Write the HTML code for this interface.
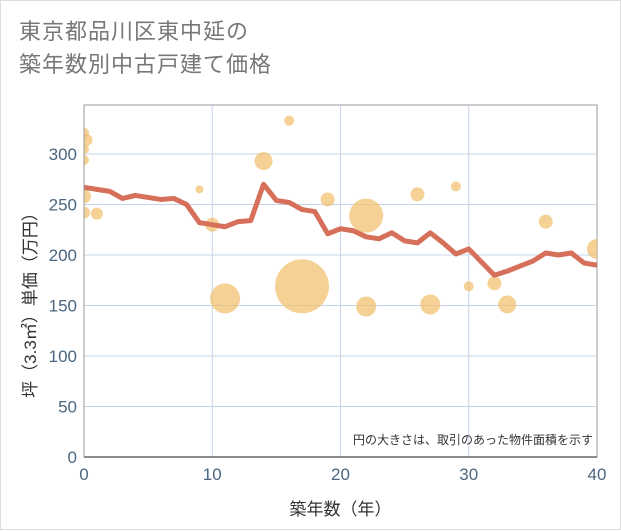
<!DOCTYPE html>
<html><head><meta charset="utf-8"><style>
body{margin:0;background:#fff;}
#wrap{position:relative;width:619px;height:528px;border:1px solid #ddd;background:#fff;font-family:"Liberation Sans","Noto Sans CJK JP",sans-serif;}
#title{position:absolute;left:18px;top:14px;font-size:22px;line-height:33px;color:#777;letter-spacing:1px;}
svg{position:absolute;left:0;top:0;}
</style></head><body>
<div id="wrap">
<div id="title">東京都品川区東中延の<br>築年数別中古戸建て価格</div>
<svg id="chart" width="621" height="530"><defs><clipPath id="pc"><rect x="83" y="104" width="513" height="352"/></clipPath></defs></svg>
</div>
<script>
const lineYears=[0,1,2,3,4,5,6,7,8,9,10,11,12,13,14,15,16,17,18,19,20,21,22,23,24,25,26,27,28,29,30,31,32,33,34,35,36,37,38,39,40];
const lineValues=[267,265,263,256,259,257,255,256,250,232,230,228,233,234,270,254,252,245,243,221,226,224,218,216,222,214,212,222,212,201,206,193,180,184,189,194,202,200,202,192,190];
const bubbleYears=[0,0.2,0,0,0,0,1,9,10,11,14,16,17,19,22,22,26,27,29,30,32,33,36,40];
const bubbleValues=[321,314,305,294,258,242,241,265,230,157,293,333,169,255,239,149,260,151,268,169,172,151,233,206];
const bubbleSizes=[5,6,5,5,7,6,6,4,7,15,9,5,27,7,17,10,7,10,5,5,7,9,7,10];
const xTicks=[0,10,20,30,40];
const yTicks=[0,50,100,150,200,250,300];
const L=83,R=596,T=104,B=456;
const xs=v=>L+(R-L)*v/40;
const ys=v=>B-v*(B-153)/300;
const svg=document.getElementById('chart');
const NS='http://www.w3.org/2000/svg';
function mk(t,a,par){const e=document.createElementNS(NS,t);for(const k in a)e.setAttribute(k,a[k]);(par||svg).appendChild(e);return e;}
let e=mk('rect',{x:L,y:T,width:R-L,height:B-T,fill:'#fff',stroke:'#999','stroke-width':1});


yTicks.forEach(v=>{
 if(v>0){const g=mk('line',{x1:L,x2:R,y1:ys(v),y2:ys(v),stroke:'#c4d4e6','stroke-width':1});
 
 }
 const t=mk('text',{x:L-7,y:ys(v)+6,'text-anchor':'end','font-size':17,fill:'#4a6680'});t.textContent=v;
 
 
});
xTicks.forEach(v=>{
 if(v>0&&v<40){const g=mk('line',{x1:xs(v),x2:xs(v),y1:T,y2:B,stroke:'#c4d4e6','stroke-width':1});
 
 }
 const t=mk('text',{x:xs(v),y:B+23,'text-anchor':'middle','font-size':17,fill:'#4a6680'});t.textContent=v;
 
 
});
const g=mk('g',{'clip-path':'url(#pc)'});


bubbleYears.forEach((x,i)=>{
 const c=mk('circle',{cx:xs(x),cy:ys(bubbleValues[i]),r:bubbleSizes[i],fill:'rgba(242,190,106,0.7)'},g);
 
 
});
const p=mk('polyline',{points:lineYears.map((x,i)=>xs(x)+','+ys(lineValues[i])).join(' '),fill:'none',stroke:'#d6705a','stroke-width':5,'stroke-linejoin':'round'},g);


e=mk('line',{x1:L,x2:R,y1:B,y2:B,stroke:'#666','stroke-width':1.5});


e=mk('line',{x1:L,x2:L,y1:T,y2:B,stroke:'#999','stroke-width':1});


let t=mk('text',{x:(L+R)/2,y:514,'text-anchor':'middle','font-size':17,fill:'#333'});t.textContent='築年数（年）';


t=mk('text',{x:35,y:300,'text-anchor':'middle','font-size':17,fill:'#333',transform:'rotate(-90 35 300)'});t.textContent='坪（3.3㎡）単価（万円）';


t=mk('text',{x:592,y:443,'text-anchor':'end','font-size':12,fill:'#333'});t.textContent='円の大きさは、取引のあった物件面積を示す';


</script>
</body></html>
